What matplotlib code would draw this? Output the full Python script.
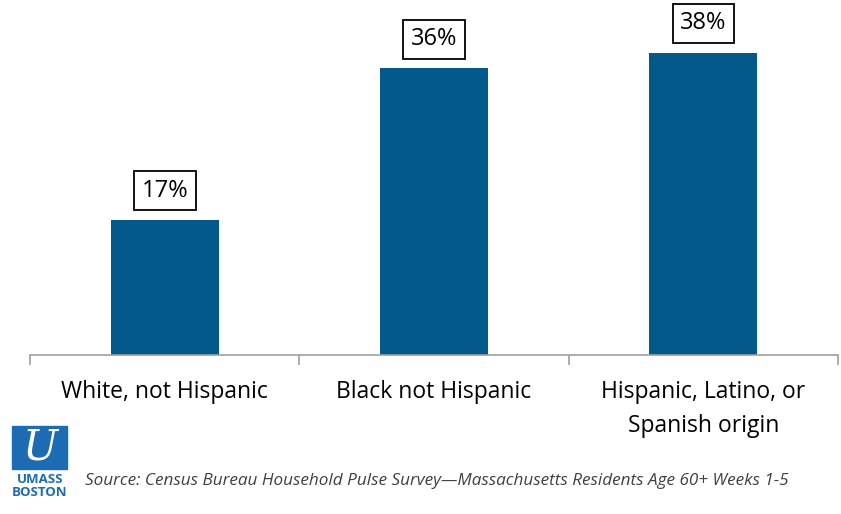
import matplotlib.pyplot as plt
from matplotlib.patches import Rectangle

categories = ["White, not Hispanic", "Black not Hispanic", "Hispanic, Latino, or\nSpanish origin"]
values = [17, 36, 38]
source = "Source: Census Bureau Household Pulse Survey\u2014Massachusetts Residents Age 60+ Weeks 1-5"

bar_color = "#03588c"
logo_blue = "#1d6cb3"
font = ["Open Sans", "DejaVu Sans"]

fig = plt.figure(figsize=(8.41, 5.14), dpi=100)
ax = fig.add_axes([30 / 841, 1 - 355 / 514, 808 / 841, 355 / 514])

x = range(len(values))
ax.bar(x, values, width=0.4, color=bar_color, zorder=2)
ax.set_xlim(-0.5, 2.5)
ax.set_ylim(0, 44.6)

for xi, v in zip(x, values):
    ax.annotate(f"{v}%", (xi, v), xytext=(0, 21), textcoords="offset points",
                ha="center", va="center", fontsize=17, family=font, color="black",
                bbox=dict(boxstyle="square,pad=0.32", fc="white", ec="black", lw=1.3))

for s in ["top", "right", "left"]:
    ax.spines[s].set_visible(False)
ax.spines["bottom"].set_color("#a0a0a0")
ax.spines["bottom"].set_linewidth(1.2)
ax.set_yticks([])
ax.set_xticks([-0.5, 0.5, 1.5, 2.5])
ax.set_xticklabels([])
ax.tick_params(axis="x", length=7, color="#a0a0a0", width=1.2)

for xi, c in zip(x, categories):
    ax.text(xi, -3.1, c, ha="center", va="top", fontsize=16.5, family=font,
            linespacing=1.55)

# logo block
fig.patches.append(Rectangle((12 / 841, 1 - 469 / 514), 55 / 841, 43 / 514,
                             transform=fig.transFigure, color=logo_blue))
fig.text(40 / 841, 1 - 448 / 514, "U", ha="center", va="center", color="white",
         fontsize=30, family="DejaVu Serif", style="italic")
fig.text(40 / 841, 1 - 486 / 514, "UMASS\nBOSTON", ha="center", va="center",
         color=logo_blue, fontsize=9.5, fontweight="bold", family=font,
         linespacing=0.95, fontstretch="condensed")

fig.text(85 / 841, 1 - 481 / 514, source, ha="left", va="center", fontsize=12.3,
         style="italic", color="#404040", family=font)

fig.savefig("out.png", dpi=100)
